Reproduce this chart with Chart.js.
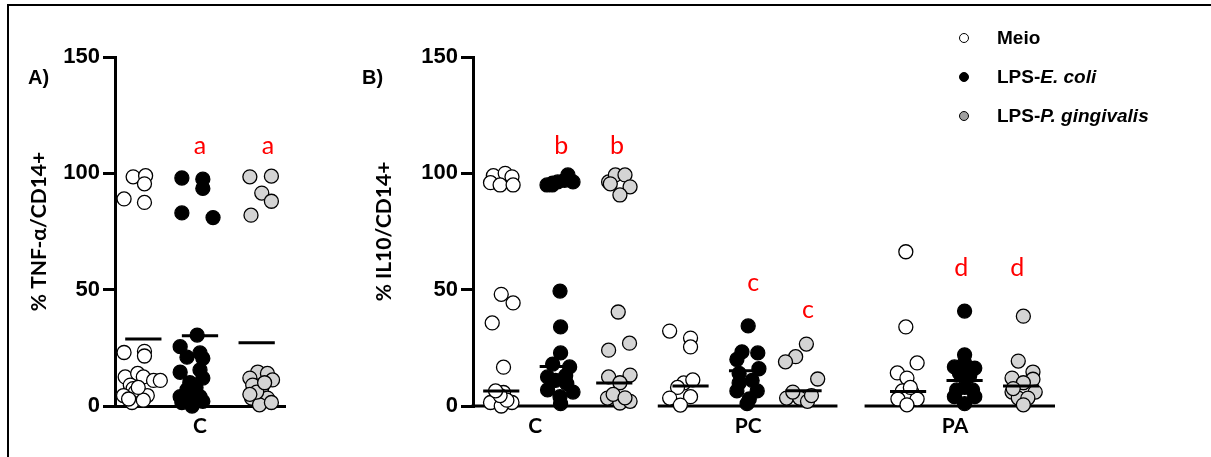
<!DOCTYPE html>
<html>
<head>
<meta charset="utf-8">
<script src="https://cdn.jsdelivr.net/npm/chart.js@4.4.0/dist/chart.umd.min.js"></script>
<style>
  body { margin: 0; background: #fff; width: 1211px; height: 457px; overflow: hidden; position: relative; }
  #frame { position: absolute; left: 7px; top: 4px; width: 1204px; height: 453px; border-top: 2px solid #000; border-left: 2px solid #000; }
  canvas { position: absolute; top: 0; }
  #ca { left: 0; }
  #cb { left: 300px; }
  .panel { position: absolute; top: 66px; font: bold 20px "Liberation Sans", Arial, sans-serif; line-height: 22px; }
  #legend { position: absolute; left: 959px; top: 18px; font: bold 19px "Liberation Sans", Arial, sans-serif; }
  .row { height: 39px; display: flex; align-items: center; }
  .dot { width: 10px; height: 10px; border-radius: 50%; border: 1.3px solid #000; margin-right: 28px; box-sizing: border-box; }
</style>
</head>
<body>
<div id="frame"></div>
<canvas id="ca" width="300" height="457"></canvas>
<canvas id="cb" width="780" height="457"></canvas>
<div class="panel" style="left:28px">A)</div>
<div class="panel" style="left:362px">B)</div>
<div id="legend">
  <div class="row"><span class="dot" style="background:#fff"></span>Meio</div>
  <div class="row"><span class="dot" style="background:#000"></span>LPS-<i>E. coli</i></div>
  <div class="row"><span class="dot" style="background:#a0a0a0"></span>LPS-<i>P. gingivalis</i></div>
</div>
<script>
// categories and series
const groupsA = ['C'];
const groupsB = ['C', 'PC', 'PA'];
const seriesNames = ['Meio', 'LPS-E. coli', 'LPS-P. gingivalis'];

// x layout in axis units: group centres, column offsets, label spots, axis pieces
const centresA = [1.5];
const centresB = [1.5, 4.85, 8.7];
const columnShift = [-1, 0, 1];
const labelAtB = [1.1, 4.87, 8.53];
const axisPiecesB = [[0, 2.87], [3.27, 6.45], [6.93, 10.3]];

// panel A: % TNF-a/CD14+, group C  (values + horizontal jitter)
const tnfMeio = [98.5, 99, 95.5, 89, 87.5, 23, 23.5, 21.5, 12.5, 14, 12.5, 11, 9, 7.5, 6, 4.5, 4.5, 1.5, 2.5, 8, 3, 11];
const tnfMeioJit = [-0.18, 0.04, 0.02, -0.34, 0.02, -0.34, 0.02, 0.02, -0.32, -0.1, 0, 0.18, -0.23, -0.18, -0.14, -0.35, 0.07, -0.2, 0, -0.09, -0.26, 0.3];
const tnfEcoli = [98, 97.5, 93.5, 83, 81, 30.5, 25.5, 22.8, 21, 20.5, 14.5, 15.5, 12, 10, 7, 4, 4, 3, 2, 0, 1.5, 8];
const tnfEcoliJit = [-0.32, 0.05, 0.05, -0.32, 0.23, -0.05, -0.35, 0, -0.23, 0.05, -0.35, 0, 0.05, -0.18, -0.23, -0.35, 0, -0.18, 0.05, -0.14, -0.32, -0.07];
const tnfPg = [98.5, 98.8, 91.5, 88, 82, 14.6, 14, 12, 11.2, 7.7, 9, 3.4, 3.4, 0.5, 1.5, 6, 10, 5];
const tnfPgJit = [-0.12, 0.26, 0.09, 0.26, -0.1, 0.02, 0.19, -0.12, 0.28, 0.09, -0.07, -0.09, 0.19, 0.05, 0.26, 0, 0.14, -0.12];
const tnfCentre = [28.8, 30.2, 27.2];

// panel B: % IL10/CD14+, groups C, PC, PA
const ilMeio = [
  [99, 100, 98.5, 96, 95, 95, 48, 44.3, 35.7, 16.7, 5.8, 3, 1.5, 1.5, 0, 2.5, 4.5, 6.5],
  [32.2, 29.2, 25.4, 9.9, 11.2, 8, 3.4, 4, 0.4],
  [66.3, 34, 18.5, 14.2, 12, 6.5, 5.8, 3.4, 3, 3, 0.5, 8]
];
const ilMeioJit = [
  [-0.14, 0.07, 0.19, -0.19, -0.02, 0.21, 0, 0.21, -0.16, 0.04, 0.04, -0.09, -0.19, 0.19, 0, 0.1, -0.02, -0.1],
  [-0.37, 0, 0, -0.12, 0.04, -0.23, -0.37, 0, -0.18],
  [-0.04, -0.04, 0.16, -0.19, -0.02, -0.1, 0.07, -0.02, -0.18, 0.16, -0.02, 0.04]
];
const ilEcoli = [
  [95, 95.8, 96.3, 97, 99.3, 96.3, 95, 49.4, 34, 22.8, 16.8, 12.5, 11, 9.6, 6.9, 6, 4, 1, 18, 13],
  [34.4, 23.3, 20, 22.8, 16, 9.9, 11, 6.5, 6.5, 3, 1, 14],
  [40.8, 22, 16.8, 16.3, 18.5, 6.9, 6.9, 8, 4, 4, 1, 14, 13]
];
const ilEcoliJit = [
  [-0.19, -0.09, 0, 0.12, 0.18, 0.27, -0.1, 0.04, 0.05, 0.05, 0.21, -0.18, -0.04, 0.16, -0.18, 0.27, 0.04, 0.05, -0.09, 0.14],
  [0.02, -0.09, -0.18, 0.19, 0.21, -0.14, 0.09, 0.18, -0.18, 0.04, 0, -0.14],
  [0, 0, -0.18, 0.18, 0, -0.14, 0.14, 0, -0.18, 0.18, 0, -0.09, 0.09]
];
const ilPg = [
  [96.3, 99.3, 99.3, 94.2, 90.7, 95.5, 40.4, 24, 27, 12.5, 13.3, 10, 3.4, 1.3, 2, 5, 3.5],
  [26.6, 21.2, 19, 11.6, 3.4, 3.4, 2, 6, 4.5],
  [38.6, 19.3, 14.6, 12, 11.5, 10, 6, 6, 3.4, 3.4, 0.5, 7.5]
];
const ilPgJit = [
  [-0.1, 0.02, 0.19, 0.28, 0.1, -0.07, 0.07, -0.1, 0.27, -0.1, 0.28, 0.1, -0.12, 0.1, 0.28, -0.02, 0.19],
  [0.05, -0.14, -0.32, 0.25, -0.3, -0.07, 0.07, -0.19, 0.14],
  [0.04, -0.05, 0.21, -0.16, 0.21, 0.04, -0.16, 0.25, -0.05, 0.12, 0.04, -0.14]
];
const ilCentre = [[6.4, 17, 9.9], [8.6, 15.2, 6.6], [6.2, 11, 8.6]];

// significance letters
const lettersA = ['a', 'a'];
const lettersAx = [1.5, 2.7];
const lettersAy = [111.7, 111.7];
const lettersB = ['b', 'b', 'c', 'c', 'd', 'd'];
const lettersBx = [1.56, 2.55, 4.96, 5.93, 8.64, 9.63];
const lettersBy = [111.7, 111.7, 52.8, 41.3, 59.3, 59.3];

const fills = ['#ffffff', '#000000', '#d4d4d4'];

function points(centre, ys, jit) {
  return ys.map((y, i) => ({ x: centre + jit[i], y }));
}

function medianLines(centres, values) {
  const out = [];
  centres.forEach((c, g) => {
    values[g].forEach((m, s) => {
      const cx = c + columnShift[s];
      out.push({ x: cx - 0.32, y: m }, { x: cx + 0.32, y: m }, { x: cx + 0.33, y: null });
    });
  });
  return out;
}

function dotSet(label, idx, data) {
  return {
    label, data, order: 1, clip: false,
    pointRadius: 7, pointHoverRadius: 7,
    pointBackgroundColor: fills[idx], pointBorderColor: '#000', pointBorderWidth: 1.3
  };
}

function lineSet(data) {
  return {
    type: 'line', label: 'centre', data, order: 0, clip: false,
    borderColor: '#000', borderWidth: 3, pointRadius: 0, spanGaps: false, showLine: true
  };
}

const letterPlugin = {
  id: 'letters',
  afterDatasetsDraw(chart, args, opts) {
    const { ctx, scales: { x, y } } = chart;
    ctx.save();
    ctx.fillStyle = '#ff0000';
    ctx.font = '25px Lato';
    ctx.textAlign = 'center';
    ctx.textBaseline = 'middle';
    opts.text.forEach((t, i) => {
      ctx.fillText(t, x.getPixelForValue(opts.at[i]), y.getPixelForValue(opts.level[i]));
    });
    ctx.restore();
  }
};

const brokenAxis = {
  id: 'brokenAxis',
  beforeDatasetsDraw(chart, args, opts) {
    if (!opts.pieces) return;
    const { ctx, chartArea, scales: { x } } = chart;
    ctx.save();
    ctx.strokeStyle = '#000';
    ctx.lineWidth = 3;
    opts.pieces.forEach(([a, b], i) => {
      ctx.beginPath();
      ctx.moveTo(x.getPixelForValue(a) - (i === 0 ? 1.5 : 0), chartArea.bottom);
      ctx.lineTo(x.getPixelForValue(b), chartArea.bottom);
      ctx.stroke();
    });
    ctx.restore();
  }
};

const tickFont = { family: '"Liberation Sans", Arial, sans-serif', size: 22, weight: 'bold' };
const titleFont = { family: 'Lato, sans-serif', size: 21, weight: 'bold' };
const groupFont = { family: 'Lato, sans-serif', size: 21, weight: 'bold' };

function makeOptions(cfg) {
  return {
    responsive: false,
    animation: false,
    events: [],
    layout: { padding: { top: 57, right: cfg.right, left: 0, bottom: 0 } },
    plugins: {
      legend: { display: false },
      tooltip: { enabled: false },
      letters: cfg.letters,
      brokenAxis: { pieces: cfg.pieces }
    },
    scales: {
      x: {
        type: 'linear', min: 0, max: cfg.xMax,
        afterBuildTicks: s => { s.ticks = cfg.labelAt.map(v => ({ value: v })); },
        ticks: {
          callback: (v, i) => cfg.groups[i],
          font: groupFont, color: '#000', padding: 8, maxRotation: 0, autoSkip: false
        },
        grid: { display: false, drawTicks: false },
        border: { display: !cfg.pieces, width: 3, color: '#000' },
        afterFit: s => { s.height = 51; }
      },
      y: {
        min: 0, max: 150,
        ticks: { stepSize: 50, font: tickFont, color: '#000', padding: 3 },
        grid: { drawOnChartArea: false, drawTicks: true, tickLength: 12, lineWidth: 3, color: '#000' },
        border: { width: 3, color: '#000' },
        title: { display: true, text: cfg.title, font: titleFont, color: '#000', padding: { top: cfg.titlePad, bottom: 0 } },
        afterFit: s => { s.width = cfg.yWidth; }
      }
    }
  };
}

// panel A
new Chart(document.getElementById('ca'), {
  type: 'scatter',
  data: {
    datasets: [
      dotSet(seriesNames[0], 0, points(centresA[0] + columnShift[0], tnfMeio, tnfMeioJit)),
      dotSet(seriesNames[1], 1, points(centresA[0] + columnShift[1], tnfEcoli, tnfEcoliJit)),
      dotSet(seriesNames[2], 2, points(centresA[0] + columnShift[2], tnfPg, tnfPgJit)),
      lineSet(medianLines(centresA, [tnfCentre]))
    ]
  },
  options: makeOptions({
    right: 15, xMax: 3, labelAt: centresA, groups: groupsA,
    title: '% TNF-α/CD14+', titlePad: 27, yWidth: 115,
    letters: { text: lettersA, at: lettersAx, level: lettersAy }
  }),
  plugins: [letterPlugin, brokenAxis]
});

// panel B
const ilSeries = [[ilMeio, ilMeioJit], [ilEcoli, ilEcoliJit], [ilPg, ilPgJit]];
new Chart(document.getElementById('cb'), {
  type: 'scatter',
  data: {
    datasets: ilSeries.map(([vals, jits], s) =>
      dotSet(seriesNames[s], s, centresB.flatMap((c, g) => points(c + columnShift[s], vals[g], jits[g])))
    ).concat([lineSet(medianLines(centresB, ilCentre))])
  },
  options: makeOptions({
    right: 25, xMax: 10.3, labelAt: labelAtB, groups: groupsB, pieces: axisPiecesB,
    title: '% IL10/CD14+', titlePad: 72, yWidth: 173,
    letters: { text: lettersB, at: lettersBx, level: lettersBy }
  }),
  plugins: [letterPlugin, brokenAxis]
});
</script>
</body>
</html>
